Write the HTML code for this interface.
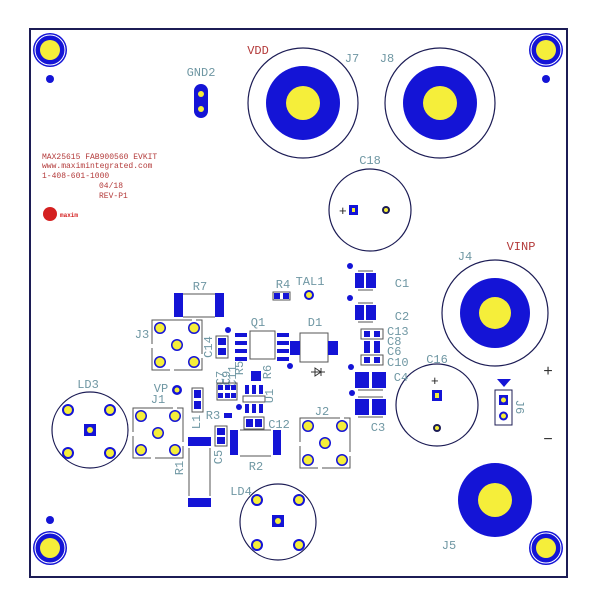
<!DOCTYPE html>
<html><head><meta charset="utf-8"><style>
html,body{margin:0;padding:0;background:#fff;width:600px;height:600px;overflow:hidden}
svg{display:block}
text{font-family:"Liberation Mono","DejaVu Sans Mono",monospace}
.l{fill:#6f97a3;font-size:12px}
.r{fill:#b33a3a}
</style></head><body>
<svg width="600" height="600" viewBox="0 0 600 600">
<rect x="30" y="29" width="537" height="548" fill="#fff" stroke="#1c1c55" stroke-width="2"/>
<g fill="#1414d6">
<circle cx="50" cy="50" r="17"/><circle cx="546" cy="50" r="17"/><circle cx="50" cy="548" r="17"/><circle cx="546" cy="548" r="17"/>
<circle cx="50" cy="79" r="4"/><circle cx="546" cy="79" r="4"/><circle cx="50" cy="520" r="4"/>
</g>
<g fill="none" stroke="#fff" stroke-width="1"><circle cx="50" cy="50" r="15"/><circle cx="546" cy="50" r="15"/><circle cx="50" cy="548" r="15"/><circle cx="546" cy="548" r="15"/></g>
<g fill="#f5ee3a"><circle cx="50" cy="50" r="10"/><circle cx="546" cy="50" r="10"/><circle cx="50" cy="548" r="10"/><circle cx="546" cy="548" r="10"/></g>

<text x="201" y="76" class="l" text-anchor="middle">GND2</text>
<rect x="194" y="84" width="14" height="34" rx="7" fill="#1414d6"/>
<circle cx="201" cy="94" r="3" fill="#f5ee3a"/><circle cx="201" cy="109" r="3" fill="#f5ee3a"/>

<g stroke="#1c1c55" stroke-width="1.2" fill="none"><circle cx="303" cy="103" r="55"/><circle cx="440" cy="103" r="55"/>
<circle cx="495" cy="313" r="53"/><circle cx="370" cy="210" r="41"/><circle cx="437" cy="405" r="41"/>
<circle cx="90" cy="430" r="38"/><circle cx="278" cy="522" r="38"/></g>
<g fill="#1414d6"><circle cx="303" cy="103" r="37"/><circle cx="440" cy="103" r="37"/><circle cx="495" cy="313" r="35"/><circle cx="495" cy="500" r="37"/></g>
<g fill="#f5ee3a"><circle cx="303" cy="103" r="17"/><circle cx="440" cy="103" r="17"/><circle cx="495" cy="313" r="16"/><circle cx="495" cy="500" r="17"/></g>
<text x="258" y="54" class="l r" text-anchor="middle">VDD</text>
<text x="352" y="62" class="l" text-anchor="middle">J7</text>
<text x="387" y="62" class="l" text-anchor="middle">J8</text>
<text x="521" y="250" class="l r" text-anchor="middle">VINP</text>
<text x="465" y="260" class="l" text-anchor="middle">J4</text>
<text x="449" y="549" class="l" text-anchor="middle">J5</text>

<g class="r" font-size="8" style="font-family:'Liberation Mono',monospace">
<text x="42" y="159">MAX25615 FAB900560 EVKIT</text>
<text x="42" y="168">www.maximintegrated.com</text>
<text x="42" y="178">1-408-601-1000</text>
<text x="99" y="188">04/18</text>
<text x="99" y="198">REV-P1</text>
</g>
<circle cx="50" cy="214" r="7" fill="#d42020"/>
<text x="60" y="217" font-size="6" fill="#d42020" font-weight="bold">maxim</text>

<text x="370" y="164" class="l" text-anchor="middle">C18</text>
<text x="339" y="215" font-size="13" fill="#222" style="font-family:'Liberation Sans',sans-serif">+</text>
<rect x="349" y="205" width="9" height="10" fill="#1414d6"/><rect x="352" y="208" width="3" height="4" fill="#f5ee3a"/>
<circle cx="386" cy="210" r="4" fill="#1c1c55"/><circle cx="386" cy="210" r="2" fill="#f5ee3a"/>

<text x="437" y="363" class="l" text-anchor="middle">C16</text>
<text x="431" y="385" font-size="13" fill="#222" style="font-family:'Liberation Sans',sans-serif">+</text>
<rect x="432" y="390" width="10" height="11" fill="#1414d6"/><rect x="435" y="393" width="4" height="5" fill="#f5ee3a"/>
<circle cx="437" cy="428" r="4" fill="#1c1c55"/><circle cx="437" cy="428" r="2" fill="#f5ee3a"/>

<polygon points="497,379 511,379 504,387" fill="#1414d6"/>
<rect x="495" y="390" width="17" height="35" fill="none" stroke="#1c1c55"/>
<rect x="499" y="395" width="9" height="10" fill="#1414d6"/><circle cx="503.5" cy="400" r="2.5" fill="#f5ee3a"/>
<circle cx="503.5" cy="416" r="4.5" fill="#1414d6"/><circle cx="503.5" cy="416" r="2.5" fill="#f5ee3a"/>
<text x="520" y="407" class="l" transform="rotate(90 520 407)" text-anchor="middle" dy="4">J6</text>
<text x="548" y="376" font-size="16" fill="#333" text-anchor="middle" style="font-family:'Liberation Sans',sans-serif">+</text>
<text x="548" y="444" font-size="16" fill="#333" text-anchor="middle" style="font-family:'Liberation Sans',sans-serif">−</text>

<text x="88" y="388" class="l" text-anchor="middle">LD3</text>
<text x="241" y="495" class="l" text-anchor="middle">LD4</text>
<g fill="#1414d6">
<circle cx="68" cy="410" r="6"/><circle cx="110" cy="410" r="6"/><circle cx="68" cy="453" r="6"/><circle cx="110" cy="453" r="6"/><rect x="84" y="424" width="12" height="12"/>
<circle cx="257" cy="500" r="6"/><circle cx="299" cy="500" r="6"/><circle cx="257" cy="545" r="6"/><circle cx="299" cy="545" r="6"/><rect x="272" y="515" width="12" height="12"/>
</g>
<g fill="#f5ee3a">
<circle cx="68" cy="410" r="4"/><circle cx="110" cy="410" r="4"/><circle cx="68" cy="453" r="4"/><circle cx="110" cy="453" r="4"/><circle cx="90" cy="430" r="3"/>
<circle cx="257" cy="500" r="4"/><circle cx="299" cy="500" r="4"/><circle cx="257" cy="545" r="4"/><circle cx="299" cy="545" r="4"/><circle cx="278" cy="521" r="3"/>
</g>

<rect x="133" y="408" width="50" height="50" fill="none" stroke="#555" stroke-dasharray="40 4"/>
<rect x="152" y="320" width="50" height="50" fill="none" stroke="#555" stroke-dasharray="40 4"/>
<rect x="300" y="418" width="50" height="50" fill="none" stroke="#555" stroke-dasharray="40 4"/>
<g fill="#1414d6">
<circle cx="141" cy="416" r="6"/><circle cx="175" cy="416" r="6"/><circle cx="141" cy="450" r="6"/><circle cx="175" cy="450" r="6"/><circle cx="158" cy="433" r="6"/>
<circle cx="160" cy="328" r="6"/><circle cx="194" cy="328" r="6"/><circle cx="160" cy="362" r="6"/><circle cx="194" cy="362" r="6"/><circle cx="177" cy="345" r="6"/>
<circle cx="308" cy="426" r="6"/><circle cx="342" cy="426" r="6"/><circle cx="308" cy="460" r="6"/><circle cx="342" cy="460" r="6"/><circle cx="325" cy="443" r="6"/>
</g>
<g fill="#f5ee3a">
<circle cx="141" cy="416" r="4.5"/><circle cx="175" cy="416" r="4.5"/><circle cx="141" cy="450" r="4.5"/><circle cx="175" cy="450" r="4.5"/><circle cx="158" cy="433" r="4.5"/>
<circle cx="160" cy="328" r="4.5"/><circle cx="194" cy="328" r="4.5"/><circle cx="160" cy="362" r="4.5"/><circle cx="194" cy="362" r="4.5"/><circle cx="177" cy="345" r="4.5"/>
<circle cx="308" cy="426" r="4.5"/><circle cx="342" cy="426" r="4.5"/><circle cx="308" cy="460" r="4.5"/><circle cx="342" cy="460" r="4.5"/><circle cx="325" cy="443" r="4.5"/>
</g>
<text x="158" y="403" class="l" text-anchor="middle">J1</text>
<text x="142" y="338" class="l" text-anchor="middle">J3</text>
<text x="322" y="415" class="l" text-anchor="middle">J2</text>
<text x="161" y="392" class="l" text-anchor="middle">VP</text>
<circle cx="177" cy="390" r="5" fill="#1414d6"/><circle cx="177" cy="390" r="2.5" fill="#f5ee3a"/>

<text x="200" y="290" class="l" text-anchor="middle">R7</text>
<line x1="183" y1="294" x2="215" y2="294" stroke="#555"/><line x1="183" y1="317" x2="215" y2="317" stroke="#555"/>
<rect x="174" y="293" width="9" height="24" fill="#1414d6"/><rect x="215" y="293" width="9" height="24" fill="#1414d6"/>
<text x="283" y="288" class="l" text-anchor="middle">R4</text>
<rect x="273" y="292" width="17" height="8" fill="none" stroke="#555"/>
<rect x="274" y="293" width="6" height="6" fill="#1414d6"/><rect x="283" y="293" width="6" height="6" fill="#1414d6"/>
<text x="310" y="285" class="l" text-anchor="middle">TAL1</text>
<circle cx="309" cy="295" r="5" fill="#1414d6"/><circle cx="309" cy="295" r="3" fill="#f5ee3a"/>

<text x="258" y="326" class="l" text-anchor="middle">Q1</text>
<rect x="250" y="331" width="25" height="28" fill="none" stroke="#555"/>
<g fill="#1414d6">
<circle cx="228" cy="330" r="3"/>
<rect x="235" y="333" width="12" height="4"/><rect x="235" y="341" width="12" height="4"/><rect x="235" y="349" width="12" height="4"/><rect x="235" y="357" width="12" height="4"/>
<rect x="277" y="333" width="12" height="4"/><rect x="277" y="341" width="12" height="4"/><rect x="277" y="349" width="12" height="4"/><rect x="277" y="357" width="12" height="4"/>
</g>
<rect x="216" y="336" width="12" height="22" fill="none" stroke="#555"/>
<rect x="218" y="338" width="8" height="7" fill="#1414d6"/><rect x="218" y="348" width="8" height="7" fill="#1414d6"/>
<text x="209" y="347" class="l" font-size="10" text-anchor="middle" transform="rotate(-90 209 347)" dy="3">C14</text>

<text x="315" y="326" class="l" text-anchor="middle">D1</text>
<rect x="300" y="333" width="28" height="29" fill="none" stroke="#555"/>
<rect x="290" y="341" width="10" height="14" fill="#1414d6"/><rect x="328" y="341" width="10" height="14" fill="#1414d6"/>
<circle cx="290" cy="366" r="3" fill="#1414d6"/>
<path d="M311 372h14M315 368v8l6-4zM321 368v8" stroke="#333" fill="none"/>

<g fill="#1414d6">
<circle cx="350" cy="266" r="3"/><rect x="355" y="273" width="9" height="15"/><rect x="366" y="273" width="10" height="15"/>
<circle cx="350" cy="298" r="3"/><rect x="355" y="305" width="9" height="15"/><rect x="366" y="305" width="10" height="15"/>
<circle cx="351" cy="367" r="3"/><rect x="355" y="372" width="14" height="16"/><rect x="372" y="372" width="14" height="16"/>
<circle cx="352" cy="393" r="3"/><rect x="355" y="399" width="14" height="16"/><rect x="372" y="399" width="14" height="16"/>
</g>
<g stroke="#555"><line x1="358" y1="271" x2="373" y2="271"/><line x1="358" y1="290" x2="373" y2="290"/><line x1="358" y1="303" x2="373" y2="303"/><line x1="358" y1="322" x2="373" y2="322"/>
<line x1="358" y1="390" x2="383" y2="390"/><line x1="358" y1="397" x2="383" y2="397"/><line x1="358" y1="417" x2="383" y2="417"/></g>
<text x="402" y="287" class="l" text-anchor="middle">C1</text>
<text x="402" y="320" class="l" text-anchor="middle">C2</text>
<text x="401" y="381" class="l" text-anchor="middle">C4</text>
<text x="378" y="431" class="l" text-anchor="middle">C3</text>
<rect x="361" y="329" width="22" height="10" fill="none" stroke="#555"/>
<rect x="361" y="355" width="22" height="10" fill="none" stroke="#555"/>
<g fill="#1414d6">
<rect x="364" y="331" width="6" height="6"/><rect x="374" y="331" width="6" height="6"/>
<rect x="364" y="341" width="6" height="12"/><rect x="374" y="341" width="6" height="12"/>
<rect x="364" y="357" width="6" height="6"/><rect x="374" y="357" width="6" height="6"/>
</g>
<g class="l" font-size="11"><text x="387" y="335">C13</text><text x="387" y="345">C8</text><text x="387" y="355">C6</text><text x="387" y="366">C10</text></g>

<rect x="251" y="371" width="10" height="10" fill="#1414d6"/>
<text x="240" y="368" class="l" font-size="10" transform="rotate(-90 240 368)" text-anchor="middle" dy="3">R5</text>
<text x="268" y="372" class="l" font-size="10" transform="rotate(-90 268 372)" text-anchor="middle" dy="3">R6</text>
<g class="l" font-size="8"><text x="221" y="378" transform="rotate(-90 221 378)" text-anchor="middle" dy="3">C7</text>
<text x="227" y="378" transform="rotate(-90 227 378)" text-anchor="middle" dy="3">C9</text>
<text x="233" y="376" transform="rotate(-90 233 376)" text-anchor="middle" dy="3">C11</text></g>
<rect x="217" y="383" width="20" height="17" fill="none" stroke="#555"/>
<g fill="#1414d6">
<rect x="218" y="385" width="5" height="5"/><rect x="225" y="385" width="5" height="5"/><rect x="231" y="385" width="5" height="5"/>
<rect x="218" y="393" width="5" height="5"/><rect x="225" y="393" width="5" height="5"/><rect x="231" y="393" width="5" height="5"/>
<rect x="245" y="385" width="4" height="9"/><rect x="252" y="385" width="4" height="9"/><rect x="259" y="385" width="4" height="9"/>
<rect x="245" y="404" width="4" height="9"/><rect x="252" y="404" width="4" height="9"/><rect x="259" y="404" width="4" height="9"/>
<circle cx="239" cy="407" r="3"/>
<rect x="224" y="413" width="8" height="5"/>
<rect x="246" y="419" width="7" height="8"/><rect x="255" y="419" width="7" height="8"/>
</g>
<rect x="243" y="396" width="22" height="6" fill="none" stroke="#555"/>
<text x="270" y="396" class="l" font-size="11" transform="rotate(-90 270 396)" text-anchor="middle" dy="3">U1</text>
<rect x="244" y="417" width="20" height="12" fill="none" stroke="#555"/>
<text x="279" y="428" class="l" text-anchor="middle">C12</text>
<text x="213" y="419" class="l" text-anchor="middle">R3</text>
<rect x="192" y="388" width="11" height="24" fill="none" stroke="#555"/>
<rect x="194" y="390" width="7" height="8" fill="#1414d6"/><rect x="194" y="401" width="7" height="8" fill="#1414d6"/>
<text x="197" y="422" class="l" font-size="11" transform="rotate(-90 197 422)" text-anchor="middle" dy="3">L1</text>
<rect x="215" y="426" width="12" height="20" fill="none" stroke="#555"/>
<rect x="217" y="428" width="8" height="7" fill="#1414d6"/><rect x="217" y="437" width="8" height="7" fill="#1414d6"/>
<text x="219" y="457" class="l" font-size="11" transform="rotate(-90 219 457)" text-anchor="middle" dy="3">C5</text>
<rect x="230" y="430" width="8" height="25" fill="#1414d6"/><rect x="273" y="430" width="8" height="25" fill="#1414d6"/>
<line x1="240" y1="430" x2="271" y2="430" stroke="#555"/><line x1="240" y1="456" x2="271" y2="456" stroke="#555"/>
<text x="256" y="470" class="l" text-anchor="middle">R2</text>
<rect x="188" y="437" width="23" height="9" fill="#1414d6"/><rect x="188" y="498" width="23" height="9" fill="#1414d6"/>
<line x1="189" y1="448" x2="189" y2="496" stroke="#555"/><line x1="210" y1="448" x2="210" y2="496" stroke="#555"/>
<text x="180" y="468" class="l" font-size="11" transform="rotate(-90 180 468)" text-anchor="middle" dy="3">R1</text>
</svg>
</body></html>
